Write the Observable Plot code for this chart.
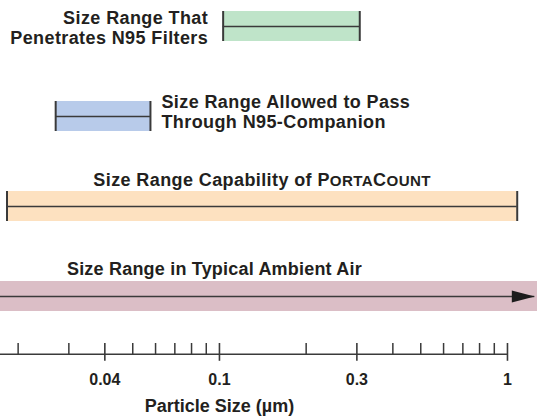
<!DOCTYPE html>
<html>
<head>
<meta charset="utf-8">
<script src="https://cdn.jsdelivr.net/npm/d3@7"></script>
<script src="https://cdn.jsdelivr.net/npm/@observablehq/plot@0.6"></script>
<style>
  html, body { margin: 0; padding: 0; background: #fff; }
  #chart svg { display: block; }
</style>
</head>
<body>
<div id="chart"></div>
<script>
// ---- data ----
const categories = ["N95 penetration", "N95-Companion pass", "PortaCount capability", "Ambient air"];
const rowLabels = [
  "Size Range That\nPenetrates N95 Filters",
  "Size Range Allowed to Pass\nThrough N95-Companion",
  "Size Range Capability of PortaCount",
  "Size Range in Typical Ambient Air"
];
const rangeLow  = [0.103, 0.027, 0.0183, 0.015];
const rangeHigh = [0.307, 0.0576, 1.081, 1.244];
const majorTicks = [0.04, 0.1, 0.3, 1];
const majorTickLabels = ["0.04", "0.1", "0.3", "1"];
const minorTicks = [0.02, 0.03, 0.05, 0.06, 0.07, 0.08, 0.09, 0.2, 0.4, 0.5, 0.6, 0.7, 0.8, 0.9];
const axisTitle = "Particle Size (µm)";
const titleAnchorValue = 0.1;

// ---- styles / layout ----
const fills = ["#bfe4c9", "#b8cbea", "#fde1c0", "#dbbec6"];
const INK = "#231f20";
const LINE = "#3a3a3a";
const FONT = "'Liberation Sans', Arial, Helvetica, sans-serif";
const xDomain = [0.01737, 1.2713];
const tracking = ["0.4px", "0.4px", "0.4px", "0.2px"];

const rows = categories.map((cat, i) => ({cat, label: rowLabels[i], lo: rangeLow[i], hi: rangeHigh[i]}));
const [n95, companion, porta, ambient] = rows;
const capped = [n95, companion, porta];

const arrowHead = {
  draw(ctx) {
    ctx.moveTo(0, 0);
    ctx.lineTo(-23, -6);
    ctx.lineTo(-23, 6);
    ctx.closePath();
  }
};

const axisLine = (index, scales, values, dims) => {
  const y = dims.height - dims.marginBottom;
  const el = document.createElementNS("http://www.w3.org/2000/svg", "line");
  el.setAttribute("x1", scales.x(xDomain[0]));
  el.setAttribute("x2", scales.x(majorTicks[majorTicks.length - 1]));
  el.setAttribute("y1", y);
  el.setAttribute("y2", y);
  el.setAttribute("stroke", LINE);
  el.setAttribute("stroke-width", 1.5);
  return el;
};

const textOpts = {fill: INK, fontSize: 18, fontWeight: "bold", lineHeight: 1.1};

const chart = Plot.plot({
  width: 537,
  height: 420,
  marginTop: 0,
  marginLeft: 0,
  marginRight: 0,
  marginBottom: 65.7,
  style: {fontFamily: FONT, background: "#fff", color: INK},
  x: {type: "log", domain: xDomain, axis: null},
  y: {type: "band", domain: categories, range: [9.5, 312.5], paddingInner: 0.6703, paddingOuter: 0, align: 0.5, axis: null},
  color: {domain: categories, range: fills},
  marks: [
    // bars
    Plot.barX(capped, {x1: "lo", x2: "hi", y: "cat", fill: "cat"}),
    Plot.barX([ambient], {x1: "lo", x2: "hi", y: "cat", fill: "cat", insetRight: -4}),
    // center lines
    Plot.ruleY(rows, {y: "cat", x1: "lo", x2: "hi", stroke: LINE, strokeWidth: 1.6}),
    // end caps
    Plot.tickX(capped, {x: "lo", y: "cat", stroke: LINE, strokeWidth: 2}),
    Plot.tickX(capped, {x: "hi", y: "cat", stroke: LINE, strokeWidth: 2}),
    // arrow head for ambient
    Plot.dot([ambient], {x: "hi", y: "cat", symbol: arrowHead, fill: "#1c1c1c", stroke: "none", r: 6}),
    // row labels
    Plot.text([n95], {x: "lo", y: "cat", text: "label", textAnchor: "end", dx: -15, dy: 1.5, ...textOpts}),
    Plot.text([companion], {x: "hi", y: "cat", text: "label", textAnchor: "start", dx: 11, dy: -4.5, ...textOpts}),
    Plot.text([porta], {x: (d) => Math.sqrt(d.lo * d.hi), y: "cat", text: "label", textAnchor: "middle", dy: -27, ...textOpts}),
    Plot.text([ambient], {x: () => titleAnchorValue, y: "cat", text: "label", textAnchor: "middle", dx: -5, dy: -28, ...textOpts}),
    // axis: line, ticks (minor above, major crossing), labels, title
    axisLine,
    Plot.ruleX(minorTicks, {x: (d) => d, insetTop: 343, stroke: LINE, strokeWidth: 1.5}),
    Plot.ruleX(majorTicks, {x: (d) => d, insetTop: 343, insetBottom: -6.5, stroke: LINE, strokeWidth: 1.6}),
    Plot.text(majorTicks, {x: (d) => d, text: (d, i) => majorTickLabels[i], frameAnchor: "bottom", dy: 30.3, textAnchor: "middle", fill: INK, fontSize: 16, fontWeight: "bold"}),
    Plot.text([axisTitle], {x: () => titleAnchorValue, frameAnchor: "bottom", text: (d) => d, dy: 57, textAnchor: "middle", fill: INK, fontSize: 18, fontWeight: "bold"})
  ]
});

// small caps for the PortaCount trademark, slight tracking on row labels
const plainLabels = rowLabels.map((s) => s.replace("\n", ""));
chart.querySelectorAll("text").forEach((el) => {
  const li = plainLabels.indexOf(el.textContent);
  if (li >= 0) el.style.letterSpacing = tracking[li];
  if (el.textContent === porta.label) {
    const word = "PortaCount";
    const i = porta.label.indexOf(word);
    el.textContent = "";
    el.appendChild(document.createTextNode(porta.label.slice(0, i)));
    let j = 0;
    while (j < word.length) {
      const upper = word[j] === word[j].toUpperCase();
      let k = j;
      while (k < word.length && (word[k] === word[k].toUpperCase()) === upper) k++;
      const ts = document.createElementNS("http://www.w3.org/2000/svg", "tspan");
      ts.textContent = word.slice(j, k).toUpperCase();
      if (!upper) ts.setAttribute("font-size", "0.84em");
      el.appendChild(ts);
      j = k;
    }
  }
});

document.getElementById("chart").appendChild(chart);
</script>
</body>
</html>
